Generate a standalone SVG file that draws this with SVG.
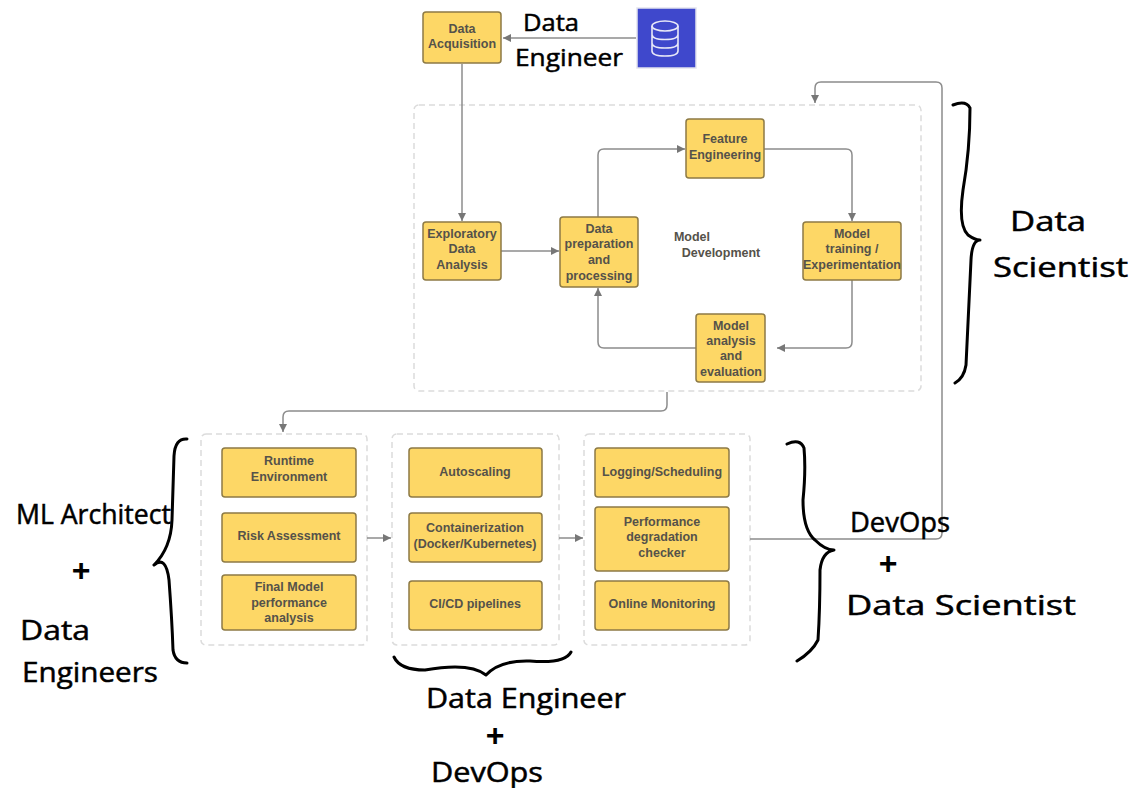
<svg xmlns="http://www.w3.org/2000/svg" width="1129" height="788" viewBox="0 0 1129 788">
<style>
.panel{fill:#fff;stroke:#dcdcdc;stroke-width:1.5;stroke-dasharray:6 4}
.box{fill:#fdd766;stroke:#8d7a45;stroke-width:1.5}
.t{font-family:"Liberation Sans",Arial,sans-serif;font-size:12.5px;font-weight:700;fill:#55524a;text-anchor:middle}
.c{fill:none;stroke:#8c8c8c;stroke-width:1.5}
.brace{fill:none;stroke:#000;stroke-width:3;stroke-linecap:round;stroke-linejoin:round}
.h{font-family:"Open Sans","Liberation Sans",sans-serif;font-size:27px;font-weight:400;fill:#000;stroke:#000;stroke-width:.5}
.h2{font-size:24px}
.p{font-family:"Liberation Sans",Arial,sans-serif;font-size:32px;font-weight:700;fill:#000;text-anchor:middle}
</style>
<defs>
<marker id="a" markerUnits="userSpaceOnUse" markerWidth="9" markerHeight="9" refX="8" refY="4" orient="auto"><path d="M0 0L8 4L0 8z" fill="#777"/></marker>
</defs>
<rect width="1129" height="788" fill="#fff"/>
<g id="panels">
<rect id="panel-dev" class="panel" x="414" y="105" width="507" height="286" rx="5"/>
<rect id="panel-a" class="panel" x="201" y="434" width="166" height="211" rx="5"/>
<rect id="panel-b" class="panel" x="392" y="434" width="167" height="211" rx="5"/>
<rect id="panel-c" class="panel" x="584" y="434" width="166" height="211" rx="5"/>
</g>
<g id="connectors">
<path class="c" marker-end="url(#a)" d="M636 38H503"/>
<path class="c" marker-end="url(#a)" d="M462 64V221"/>
<path class="c" marker-end="url(#a)" d="M501 251H559"/>
<path class="c" marker-end="url(#a)" d="M598 217V155Q598 149 604 149H685"/>
<path class="c" marker-end="url(#a)" d="M764 149H846Q852 149 852 155V221"/>
<path class="c" marker-end="url(#a)" d="M852 280V342Q852 348 846 348H777"/>
<path class="c" marker-end="url(#a)" d="M696 348H604Q598 348 598 342V288"/>
<path class="c" marker-end="url(#a)" d="M667 392V405Q667 411 661 411H289Q283 411 283 417V432"/>
<path class="c" marker-end="url(#a)" d="M367 538H391"/>
<path class="c" marker-end="url(#a)" d="M559 538H583"/>
<path class="c" marker-end="url(#a)" d="M750 539H936Q942 539 942 533V88Q942 82 936 82H821Q815 82 815 88V103"/>
</g>
<g id="db"><rect x="637" y="8" width="59" height="60" fill="#3f48cc" stroke="#e3e3ee" stroke-width="1.5"/>
<g fill="none" stroke="#e8e8f8" stroke-width="1.6"><ellipse cx="665" cy="26" rx="13" ry="5"/><path d="M652 26V51Q652 56 665 56T678 51V26M652 34.500Q652 39.500 665 39.500T678 34.500M652 43Q652 48 665 48T678 43"/></g></g>
<g id="data-acquisition"><rect class="box" x="423" y="12" width="78" height="51" rx="3"/><text class="t" x="462" y="33">Data</text><text class="t" x="462" y="48">Acquisition</text></g>
<g id="eda"><rect class="box" x="423" y="222" width="78" height="58" rx="3"/><text class="t" x="462" y="238">Exploratory</text><text class="t" x="462" y="253">Data</text><text class="t" x="462" y="269">Analysis</text></g>
<g id="data-prep"><rect class="box" x="560" y="217" width="78" height="70" rx="3"/><text class="t" x="599" y="233">Data</text><text class="t" x="599" y="248">preparation</text><text class="t" x="599" y="264">and</text><text class="t" x="599" y="280">processing</text></g>
<g id="feature"><rect class="box" x="686" y="119" width="78" height="59" rx="3"/><text class="t" x="725" y="143">Feature</text><text class="t" x="725" y="159">Engineering</text></g>
<g id="training"><rect class="box" x="803" y="222" width="98" height="58" rx="3"/><text class="t" x="852" y="238">Model</text><text class="t" x="852" y="253">training /</text><text class="t" x="852" y="269">Experimentation</text></g>
<g id="analysis"><rect class="box" x="696" y="314" width="69" height="68" rx="3"/><text class="t" x="731" y="330">Model</text><text class="t" x="731" y="345">analysis</text><text class="t" x="731" y="360">and</text><text class="t" x="731" y="376">evaluation</text></g>
<g id="model-dev-label"><text class="t" x="692" y="241">Model</text><text class="t" x="721" y="257">Development</text></g>
<g id="runtime"><rect class="box" x="222" y="448" width="134" height="49" rx="3"/><text class="t" x="289" y="465">Runtime</text><text class="t" x="289" y="481">Environment</text></g>
<g id="risk"><rect class="box" x="222" y="513" width="134" height="49" rx="3"/><text class="t" x="289" y="540">Risk Assessment</text></g>
<g id="final"><rect class="box" x="222" y="575" width="134" height="55" rx="3"/><text class="t" x="289" y="591">Final Model</text><text class="t" x="289" y="607">performance</text><text class="t" x="289" y="622">analysis</text></g>
<g id="autoscaling"><rect class="box" x="409" y="448" width="133" height="49" rx="3"/><text class="t" x="475" y="476">Autoscaling</text></g>
<g id="container"><rect class="box" x="409" y="513" width="133" height="49" rx="3"/><text class="t" x="475" y="532">Containerization</text><text class="t" x="475" y="548">(Docker/Kubernetes)</text></g>
<g id="cicd"><rect class="box" x="409" y="581" width="133" height="49" rx="3"/><text class="t" x="475" y="608">CI/CD pipelines</text></g>
<g id="logging"><rect class="box" x="595" y="448" width="134" height="49" rx="3"/><text class="t" x="662" y="476">Logging/Scheduling</text></g>
<g id="perf"><rect class="box" x="595" y="507" width="134" height="64" rx="3"/><text class="t" x="662" y="526">Performance</text><text class="t" x="662" y="541">degradation</text><text class="t" x="662" y="557">checker</text></g>
<g id="online"><rect class="box" x="595" y="581" width="134" height="49" rx="3"/><text class="t" x="662" y="608">Online Monitoring</text></g>
<g id="annotations">
<path class="brace" d="M187 439Q175 438 174 456Q173 490 172 520Q171 548 154 565M154 565Q166 555 169 580Q172 620 173 650Q175 663 187 663"/>
<path class="brace" d="M953 105Q966 100 970 108Q970 150 963 190Q958 225 968 235Q975 240 980 240Q972 240 971 260Q968 320 966 365Q964 378 955 383"/>
<path class="brace" d="M787 444Q800 438 804 448Q806 470 803 500Q803 530 815 540Q825 550 834 550Q822 552 820 570Q820 610 818 640Q812 652 797 661"/>
<path class="brace" d="M394 657Q400 670 425 670Q470 662 486 675Q500 660 530 661Q565 664 571 652"/>
<text class="h h2" x="523" y="31" textLength="56" lengthAdjust="spacingAndGlyphs">Data</text>
<text class="h h2" x="515" y="66" textLength="108" lengthAdjust="spacingAndGlyphs">Engineer</text>
<text class="h" x="1010" y="231" textLength="76" lengthAdjust="spacingAndGlyphs">Data</text>
<text class="h" x="993" y="277" textLength="135" lengthAdjust="spacingAndGlyphs">Scientist</text>
<text class="h" x="16" y="524" textLength="155" lengthAdjust="spacingAndGlyphs">ML Architect</text>
<text class="p" x="81" y="581">+</text>
<text class="h" x="20" y="640" textLength="70" lengthAdjust="spacingAndGlyphs">Data</text>
<text class="h" x="22" y="682" textLength="136" lengthAdjust="spacingAndGlyphs">Engineers</text>
<text class="h" x="850" y="532" textLength="100" lengthAdjust="spacingAndGlyphs">DevOps</text>
<text class="p" x="888" y="574">+</text>
<text class="h" x="846" y="615" textLength="230" lengthAdjust="spacingAndGlyphs">Data Scientist</text>
<text class="h" x="426" y="708" textLength="200" lengthAdjust="spacingAndGlyphs">Data Engineer</text>
<text class="p" x="495" y="746">+</text>
<text class="h" x="431" y="782" textLength="112" lengthAdjust="spacingAndGlyphs">DevOps</text>
</g>
</svg>
